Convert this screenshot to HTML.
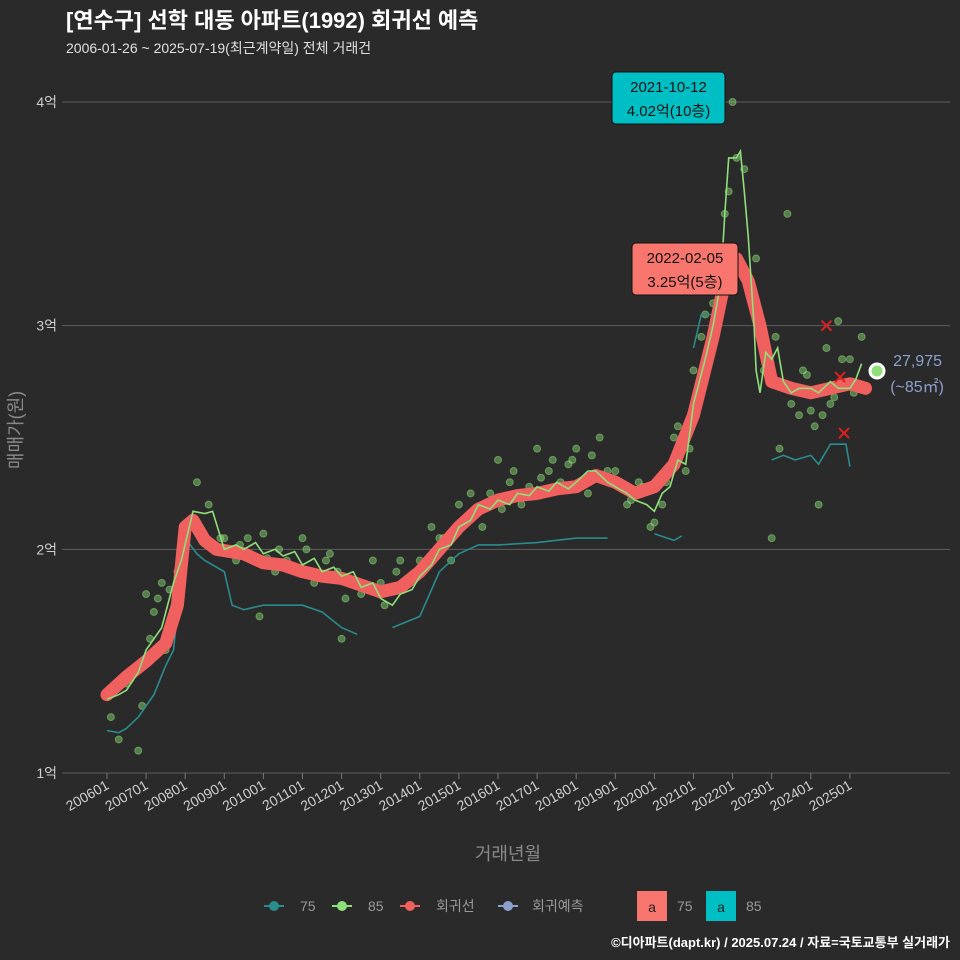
<!DOCTYPE html>
<html><head><meta charset="utf-8">
<style>
body{margin:0;background:#2b2a2b;}
svg{display:block;font-family:"Liberation Sans","Noto Sans CJK KR",sans-serif;}
</style></head>
<body>
<svg id="chart" width="960" height="960" viewBox="0 0 960 960">
<rect width="960" height="960" fill="#2b2a2b"/>
<text x="66" y="28" fill="#ffffff" font-size="22" font-weight="bold">[연수구] 선학 대동 아파트(1992) 회귀선 예측</text>
<text x="66" y="53" fill="#e0e0e0" font-size="14">2006-01-26 ~ 2025-07-19(최근계약일) 전체 거래건</text>
<g id="grid"></g><g id="pts"></g><g id="lines"></g><g id="ann"></g>
<text x="508" y="860" fill="#8a8a8a" font-size="18" text-anchor="middle">거래년월</text>
<text transform="translate(22,430) rotate(-90)" fill="#8a8a8a" font-size="18" text-anchor="middle">매매가(원)</text>
<g font-size="14" fill="#9a9a9a">
 <g><line x1="264" y1="906" x2="284" y2="906" stroke="#2a8c8c" stroke-width="2"/><circle cx="274" cy="906" r="5" fill="#2a8c8c"/><text x="300" y="911">75</text></g>
 <g><line x1="332" y1="906" x2="352" y2="906" stroke="#8fe07a" stroke-width="2"/><circle cx="342" cy="906" r="5" fill="#8fe07a"/><text x="368" y="911">85</text></g>
 <g><line x1="400" y1="906" x2="420" y2="906" stroke="#f0605f" stroke-width="2"/><circle cx="410" cy="906" r="5" fill="#f0605f"/><text x="436" y="911">회귀선</text></g>
 <g><line x1="498" y1="906" x2="518" y2="906" stroke="#8da0cb" stroke-width="2"/><circle cx="508" cy="906" r="5" fill="#8da0cb"/><text x="532" y="911">회귀예측</text></g>
 <g><rect x="637" y="891" width="30" height="30" fill="#f8766d"/><text x="652" y="912" fill="#222" text-anchor="middle">a</text><text x="677" y="911">75</text></g>
 <g><rect x="706" y="891" width="30" height="30" fill="#00bfc4"/><text x="721" y="912" fill="#222" text-anchor="middle">a</text><text x="746" y="911">85</text></g>
</g>
<text x="950" y="947" fill="#ffffff" font-size="13" font-weight="bold" text-anchor="end">©디아파트(dapt.kr) / 2025.07.24 / 자료=국토교통부 실거래가</text>
</svg>
<script>
const yTicks=[1,2,3,4];
const xTickYears=[2006,2007,2008,2009,2010,2011,2012,2013,2014,2015,2016,2017,2018,2019,2020,2021,2022,2023,2024,2025];
const regT=[2006.0,2006.5,2007.0,2007.5,2007.8,2008.0,2008.2,2008.5,2008.8,2009.5,2010,2010.5,2011,2011.5,2012,2012.5,2013,2013.5,2014,2014.5,2015,2015.5,2016,2016.5,2017,2017.5,2018,2018.5,2019,2019.5,2020,2020.5,2021,2021.5,2021.8,2022.1,2022.4,2022.7,2023,2023.5,2024,2024.5,2025,2025.4];
const regV=[1.35,1.43,1.5,1.58,1.75,2.1,2.13,2.04,2.0,1.98,1.94,1.93,1.9,1.88,1.87,1.84,1.81,1.83,1.9,2.0,2.1,2.18,2.22,2.24,2.25,2.27,2.28,2.33,2.3,2.25,2.28,2.38,2.6,2.95,3.2,3.3,3.2,3.0,2.75,2.72,2.7,2.72,2.74,2.72];
const s85T=[2006.0,2006.3,2006.5,2006.8,2007.0,2007.2,2007.4,2007.7,2007.9,2008.2,2008.5,2008.7,2009.0,2009.3,2009.5,2009.8,2010,2010.3,2010.5,2010.8,2011,2011.3,2011.5,2011.8,2012,2012.3,2012.5,2012.8,2013,2013.3,2013.5,2013.8,2014,2014.3,2014.5,2014.8,2015,2015.3,2015.5,2015.8,2016,2016.3,2016.5,2016.8,2017,2017.3,2017.5,2017.8,2018,2018.3,2018.5,2018.8,2019,2019.3,2019.5,2019.8,2020.0,2020.2,2020.4,2020.6,2020.8,2021,2021.3,2021.5,2021.7,2021.8,2021.9,2022.1,2022.2,2022.3,2022.4,2022.55,2022.6,2022.7,2022.85,2023.0,2023.15,2023.3,2023.5,2023.7,2024,2024.2,2024.5,2024.7,2025,2025.15,2025.3];
const s85V=[1.33,1.35,1.37,1.45,1.55,1.6,1.65,1.85,1.95,2.17,2.16,2.17,2.0,2.02,2.0,2.03,1.98,2.0,1.97,1.99,1.93,1.96,1.9,1.92,1.88,1.9,1.83,1.85,1.78,1.75,1.8,1.82,1.88,1.93,2.0,2.02,2.1,2.13,2.2,2.18,2.22,2.2,2.25,2.24,2.28,2.26,2.3,2.27,2.3,2.35,2.35,2.3,2.28,2.25,2.22,2.2,2.17,2.25,2.28,2.4,2.38,2.65,2.85,3.0,3.2,3.5,3.75,3.75,3.78,3.6,3.4,3.0,2.8,2.7,2.88,2.85,2.9,2.75,2.7,2.72,2.72,2.7,2.75,2.72,2.72,2.76,2.83];
const s75Segs=[
 [[2006.0,2006.3,2006.5,2006.8,2007.0,2007.2,2007.5,2007.7,2008.0,2008.3,2008.5,2009.0,2009.2,2009.5,2010,2010.5,2011,2011.5,2012,2012.4],[1.19,1.18,1.2,1.25,1.3,1.35,1.48,1.55,2.05,1.98,1.95,1.9,1.75,1.73,1.75,1.75,1.75,1.72,1.65,1.62]],
 [[2013.3,2014,2014.5,2015,2015.5,2016,2017,2018,2018.8],[1.65,1.7,1.9,1.98,2.02,2.02,2.03,2.05,2.05]],
 [[2020.0,2020.5,2020.7],[2.07,2.04,2.06]],
 [[2021.0,2021.2,2021.7,2022.0,2022.2],[2.9,3.05,3.05,3.2,3.25]],
 [[2023.0,2023.3,2023.6,2024.0,2024.2,2024.5,2024.9,2025.0],[2.4,2.42,2.4,2.42,2.38,2.47,2.47,2.37]]
];
const ptT=[2006.1,2006.3,2006.5,2006.8,2007.0,2007.2,2007.4,2007.5,2007.8,2008.3,2008.6,2009.0,2009.3,2009.6,2010.0,2010.3,2010.6,2011.0,2011.3,2011.6,2011.9,2012.2,2012.5,2012.8,2013.1,2013.4,2013.7,2014.0,2014.3,2014.6,2015.0,2015.3,2015.6,2016.0,2016.3,2016.6,2017.0,2017.3,2017.6,2018.0,2018.3,2018.6,2019.0,2019.3,2019.6,2019.9,2020.2,2020.5,2020.8,2021.0,2021.3,2021.6,2021.8,2022.0,2022.3,2022.6,2023.0,2023.4,2023.8,2024.1,2024.4,2024.7,2025.0,2025.3,2024.2,2023.2,2017.9,2009.9,2012.0,2014.8,
2006.2,2006.6,2006.9,2007.1,2007.3,2007.6,2008.1,2008.9,2009.1,2009.4,2010.1,2010.4,2010.8,2011.1,2011.4,2011.7,2012.1,2012.6,2013.0,2013.5,2013.9,2014.1,2014.5,2015.1,2015.4,2015.8,2016.1,2016.4,2016.8,2017.1,2017.4,2017.8,2018.1,2018.4,2018.8,2019.1,2019.4,2019.7,2020.0,2020.3,2020.6,2020.9,2021.2,2021.5,2021.9,2022.1,2022.8,2023.1,2023.5,2023.7,2024.0,2024.3,2024.6,2024.8,2025.1,2023.9,2024.5];
const ptV=[1.25,1.15,1.4,1.1,1.8,1.72,1.85,1.55,1.9,2.3,2.2,2.05,1.95,2.05,2.07,1.9,1.95,2.05,1.85,1.95,1.9,1.85,1.8,1.95,1.75,1.9,1.85,1.95,2.1,2.05,2.2,2.25,2.1,2.4,2.3,2.2,2.45,2.35,2.3,2.45,2.25,2.5,2.35,2.2,2.3,2.1,2.2,2.5,2.35,2.8,3.05,3.0,3.5,4.0,3.7,3.3,2.05,3.5,2.8,2.55,2.9,3.02,2.85,2.95,2.2,2.45,2.4,1.7,1.6,1.95,
1.38,1.42,1.3,1.6,1.78,1.82,2.1,2.05,1.98,2.02,1.96,2.0,1.92,2.0,1.88,1.98,1.78,1.82,1.85,1.95,1.88,1.92,2.05,2.12,2.15,2.25,2.18,2.35,2.28,2.32,2.4,2.38,2.3,2.42,2.35,2.3,2.22,2.28,2.12,2.3,2.55,2.45,2.95,3.1,3.6,3.75,2.8,2.95,2.65,2.6,2.62,2.6,2.68,2.85,2.7,2.78,2.65];
const NS="http://www.w3.org/2000/svg";
function X(t){return 107+(t-2006)*39.1;}
function Y(v){return 773-(v-1)*223.67;}
function mk(tag,attrs,parent){const e=document.createElementNS(NS,tag);for(const k in attrs)e.setAttribute(k,attrs[k]);parent.appendChild(e);return e;}
const grid=document.getElementById('grid'),pts=document.getElementById('pts'),lines=document.getElementById('lines'),ann=document.getElementById('ann');
yTicks.forEach(v=>{
 const l=mk('line',{x1:62,x2:950,y1:Y(v),y2:Y(v),stroke:'#5e5e5e','stroke-width':1},grid);
 
 
 const t=mk('text',{x:57,y:Y(v)+5,fill:'#cfcfcf','font-size':14,'text-anchor':'end'},grid);
 
 
 t.textContent=v+'억';
});
xTickYears.forEach(yr=>{
 const x=X(yr);
 const l=mk('line',{x1:x,x2:x,y1:773,y2:779,stroke:'#777'},grid);
 
 
 const t=mk('text',{transform:`translate(${x+3},${788}) rotate(-30)`,fill:'#cfcfcf','font-size':14,'text-anchor':'end'},grid);
 
 
 t.textContent=yr+'01';
});
ptT.forEach((t,i)=>{
 const c=mk('circle',{cx:X(t),cy:Y(ptV[i]),r:3.5,fill:'#8fe07a','fill-opacity':0.45,stroke:'#8fe07a','stroke-opacity':0.5},pts);
 
 
});
function path(T,V){return T.map((t,i)=>(i?'L':'M')+X(t).toFixed(1)+','+Y(V[i]).toFixed(1)).join('');}
s75Segs.forEach(s=>{
 const p=mk('path',{d:path(s[0],s[1]),fill:'none',stroke:'#2a8c8c','stroke-width':1.6},lines);
 
 
});
const r=mk('path',{d:path(regT,regV),fill:'none',stroke:'#f0605f','stroke-width':13,'stroke-linejoin':'round','stroke-linecap':'round'},lines);


const g=mk('path',{d:path(s85T,s85V),fill:'none',stroke:'#8fe07a','stroke-width':1.6},lines);


[[2024.4,3.0],[2024.75,2.77],[2024.85,2.52]].forEach(p=>{
 const x=X(p[0]),y=Y(p[1]);
 const e=mk('path',{d:`M${x-5},${y-5}L${x+5},${y+5}M${x+5},${y-5}L${x-5},${y+5}`,stroke:'#e02020','stroke-width':2},ann);
 
 
});
const ec=mk('circle',{cx:877,cy:371,r:7,fill:'#8fe07a',stroke:'#fff','stroke-width':3},ann);


function label(x,y,w,h,fill,l1,l2,name){
 const gg=mk('g',{},ann);
 
 
 mk('rect',{x:x,y:y,width:w,height:h,rx:4,fill:fill,stroke:'#111'},gg);
 const a=mk('text',{x:x+w/2,y:y+20,'font-size':15,'text-anchor':'middle',fill:'#111'},gg);a.textContent=l1;
 const b=mk('text',{x:x+w/2,y:y+44,'font-size':15,'text-anchor':'middle',fill:'#111'},gg);b.textContent=l2;
}
label(612,72,113,52,'#00bfc4','2021-10-12','4.02억(10층)','max-label-85');
label(632,243,106,52,'#f8766d','2022-02-05','3.25억(5층)','max-label-75');
const t1=mk('text',{x:942,y:366,fill:'#8da0cb','font-size':16,'text-anchor':'end'},ann);


t1.textContent='27,975';
const t2=mk('text',{x:944,y:392,fill:'#8da0cb','font-size':16,'text-anchor':'end'},ann);


t2.textContent='(~85㎡)';
</script>
</body></html>
